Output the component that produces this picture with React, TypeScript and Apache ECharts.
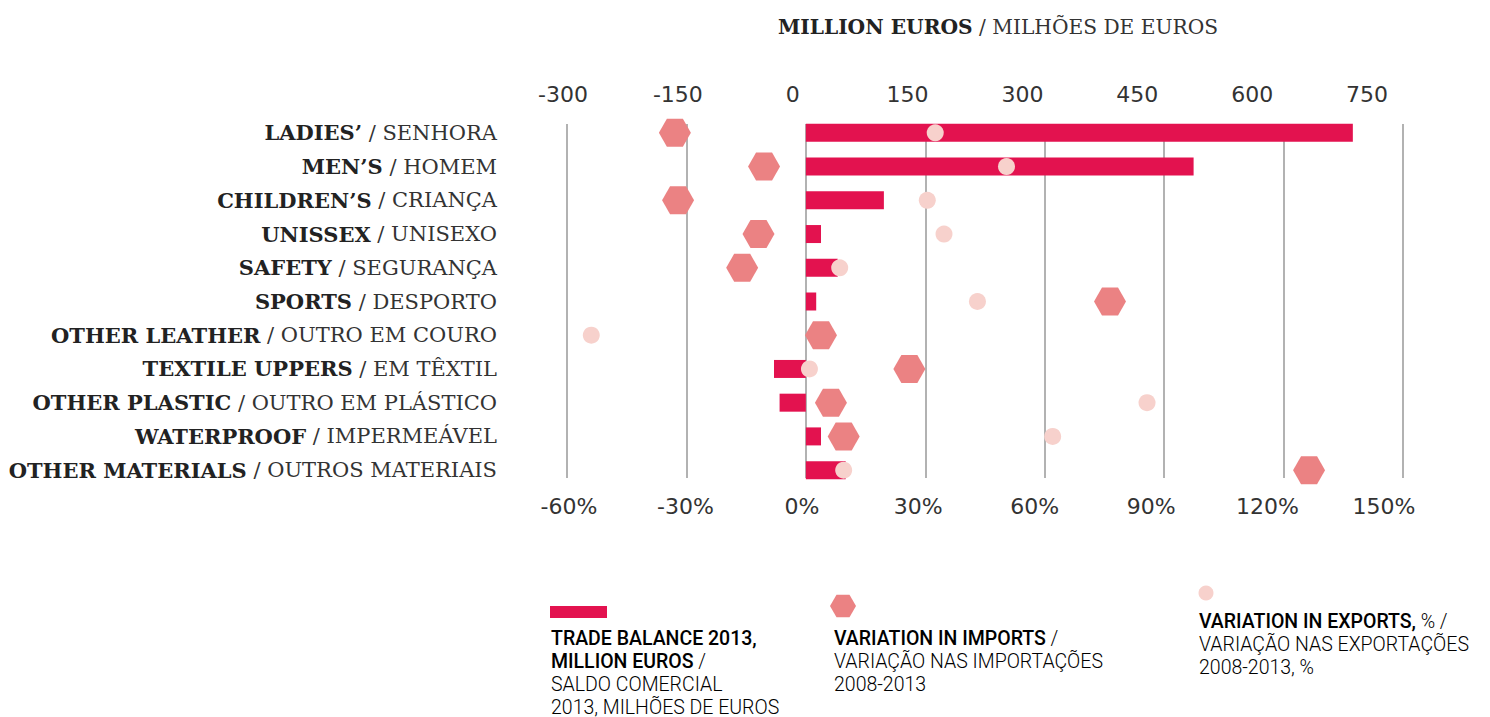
import React, { useEffect, useRef } from "react";
import * as echarts from "echarts";

const categoriesEn = ["LADIES’", "MEN’S", "CHILDREN’S", "UNISSEX", "SAFETY", "SPORTS", "OTHER LEATHER", "TEXTILE UPPERS", "OTHER PLASTIC", "WATERPROOF", "OTHER MATERIALS"];
const categoriesPt = ["SENHORA", "HOMEM", "CRIANÇA", "UNISEXO", "SEGURANÇA", "DESPORTO", "OUTRO EM COURO", "EM TÊXTIL", "OUTRO EM PLÁSTICO", "IMPERMEÁVEL", "OUTROS MATERIAIS"];
// Trade balance 2013, million euros
const tradeBalance = [687, 487, 98, 19, 40, 13, 0, -40, -33, 19, 50];
// Variation in imports 2008-2013, %
const importsVariation = [-32.9, -10.5, -32.1, -11.9, -16.0, 76.4, 3.8, 26.0, 6.3, 9.5, 126.4];
// Variation in exports 2008-2013, %
const exportsVariation = [32.5, 50.4, 30.5, 34.7, 8.5, 43.1, -53.9, 0.9, 85.7, 62.0, 9.5];

const euroMin = -300, euroMax = 750, euroStep = 150;
const pctMin = -60, pctMax = 150, pctStep = 30;

const BAR = "#E3124F";
const HEX = "#EB8283";
const DOT = "#F7D1CC";
const HEX_PATH = "path://M0,0.866L0.5,0L1.5,0L2,0.866L1.5,1.732L0.5,1.732Z";
const SERIF = "'DejaVu Serif', 'Liberation Serif', serif";
const NARROW = "'Roboto', sans-serif";
const AXISFONT = "'DejaVu Sans', sans-serif";

export default function App() {
  const ref = useRef<HTMLDivElement>(null);
  useEffect(() => {
    if (!ref.current) return;
    const chart = echarts.init(ref.current, undefined, { renderer: "svg" });
    const cats = categoriesEn.map((c, i) => c + "|" + categoriesPt[i]);
    const legendRich = {
      b: { fontFamily: NARROW, fontWeight: 500, fontSize: 19.5, color: "#222", lineHeight: 23 },
      r: { fontFamily: NARROW, fontWeight: 300, fontSize: 19.5, color: "#333", lineHeight: 23 },
    };
    const option = {
      animation: false,
      backgroundColor: "#fff",
      title: {
        text: "{b|MILLION EUROS}{r| / MILHÕES DE EUROS}",
        left: 773,
        top: 12,
        textStyle: {
          rich: {
            b: { fontFamily: SERIF, fontWeight: "bold", fontSize: 20.2, color: "#222" },
            r: { fontFamily: SERIF, fontWeight: "normal", fontSize: 20.2, color: "#333" },
          },
        },
      },
      grid: [
        { left: 567, right: 87, top: 116, height: 371 },
        { left: 567, right: 87, top: 124, height: 354 },
        { left: 563, right: 123, top: 124, height: 354 },
        { left: 569, right: 106, top: 124, height: 354 },
      ],
      xAxis: [
        { gridIndex: 0, type: "value", min: euroMin, max: euroMax, show: false },
        { gridIndex: 0, type: "value", min: pctMin, max: pctMax, show: false },
        {
          gridIndex: 1, type: "value", min: euroMin, max: euroMax, interval: euroStep,
          axisLabel: { show: false }, axisLine: { show: false }, axisTick: { show: false },
          splitLine: { show: true, lineStyle: { color: "#999", width: 1.5 } },
        },
        {
          gridIndex: 2, type: "value", position: "top", min: euroMin, max: euroMax, interval: euroStep,
          axisLine: { show: false }, axisTick: { show: false }, splitLine: { show: false },
          axisLabel: { fontFamily: AXISFONT, fontSize: 22, color: "#333", margin: 19 },
        },
        {
          gridIndex: 3, type: "value", position: "bottom", min: pctMin, max: pctMax, interval: pctStep,
          axisLine: { show: false }, axisTick: { show: false }, splitLine: { show: false },
          axisLabel: { fontFamily: AXISFONT, fontSize: 22, color: "#333", margin: 17, formatter: "{value}%" },
        },
      ],
      yAxis: [
        {
          gridIndex: 0, type: "category", data: cats, inverse: true,
          axisLine: { show: false }, axisTick: { show: false }, splitLine: { show: false },
          axisLabel: {
            margin: 70,
            formatter: (v: string) => {
              const [en, pt] = v.split("|");
              return "{b|" + en + "}{r| / " + pt + "}";
            },
            rich: {
              b: { fontFamily: SERIF, fontWeight: "bold", fontSize: 21, color: "#222" },
              r: { fontFamily: SERIF, fontWeight: "normal", fontSize: 21, color: "#333" },
            },
          },
        },
        { gridIndex: 1, type: "value", show: false },
        { gridIndex: 2, type: "value", show: false },
        { gridIndex: 3, type: "value", show: false },
      ],
      series: [
        {
          type: "bar", xAxisIndex: 0, yAxisIndex: 0, data: tradeBalance, barWidth: 18,
          itemStyle: { color: BAR }, z: 2,
        },
        {
          type: "scatter", xAxisIndex: 1, yAxisIndex: 0,
          data: importsVariation.map((v, i) => [v, cats[i]]),
          symbol: HEX_PATH, symbolSize: [32, 28], itemStyle: { color: HEX, opacity: 1 }, z: 3,
        },
        {
          type: "scatter", xAxisIndex: 1, yAxisIndex: 0,
          data: exportsVariation.map((v, i) => [v, cats[i]]),
          symbol: "circle", symbolSize: 17, itemStyle: { color: DOT, opacity: 1 }, z: 4,
        },
      ],
      graphic: [
        { type: "rect", shape: { x: 550, y: 606, width: 57, height: 12 }, style: { fill: BAR } },
        {
          type: "polygon",
          shape: { points: [[830, 606], [836.5, 594.7], [849.5, 594.7], [856, 606], [849.5, 617.3], [836.5, 617.3]] },
          style: { fill: HEX },
        },
        { type: "circle", shape: { cx: 1206, cy: 593, r: 7.5 }, style: { fill: DOT } },
        {
          type: "text", left: 551, top: 628,
          style: {
            text: "{b|TRADE BALANCE 2013,}\n{b|MILLION EUROS}{r| /}\n{r|SALDO COMERCIAL}\n{r|2013, MILHÕES DE EUROS}",
            rich: legendRich,
          },
        },
        {
          type: "text", left: 834, top: 628,
          style: {
            text: "{b|VARIATION IN IMPORTS}{r| /}\n{r|VARIAÇÃO NAS IMPORTAÇÕES}\n{r|2008-2013}",
            rich: legendRich,
          },
        },
        {
          type: "text", left: 1199, top: 611,
          style: {
            text: "{b|VARIATION IN EXPORTS,}{r| % /}\n{r|VARIAÇÃO NAS EXPORTAÇÕES}\n{r|2008-2013, %}",
            rich: legendRich,
          },
        },
      ],
    };
    chart.setOption(option as any);
    return () => chart.dispose();
  }, []);
  return (
    <div
      ref={ref}
      style={{ position: "fixed", left: 0, top: 0, width: 1490, height: 717 }}
    />
  );
}
